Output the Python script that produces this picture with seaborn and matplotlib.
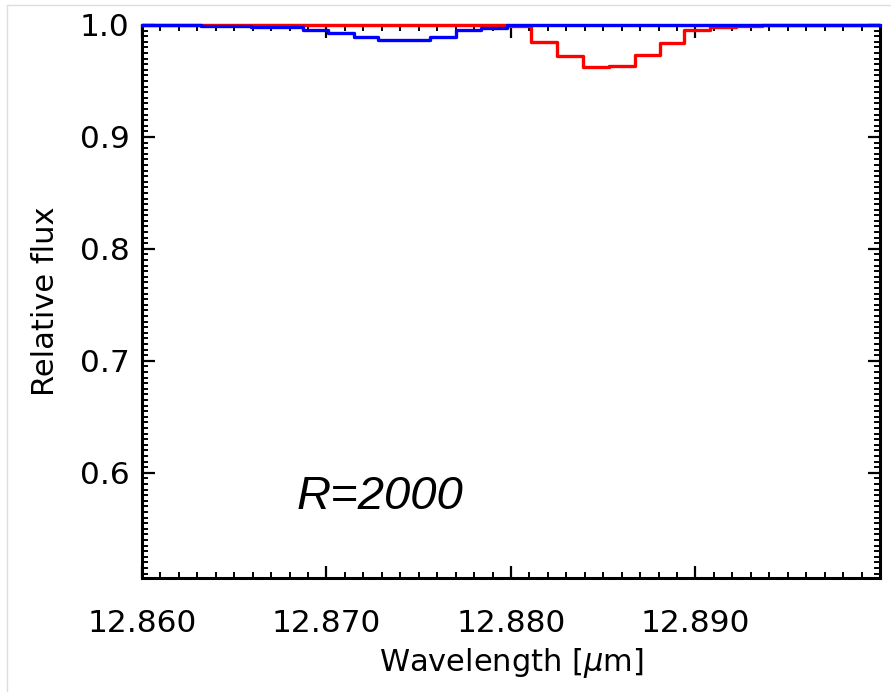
import numpy as np
import pandas as pd
import matplotlib
matplotlib.use("Agg")
import matplotlib.pyplot as plt
from matplotlib.lines import Line2D
from matplotlib.ticker import MultipleLocator, FormatStrFormatter
import seaborn as sns

# Wavelength bin left edges (micron) and final edge
wavelength = [12.8600, 12.8618, 12.8632, 12.8645, 12.8659, 12.8673, 12.8687, 12.8701,
              12.8715, 12.8728, 12.8742, 12.8756, 12.8770, 12.8784, 12.8798, 12.8811,
              12.8825, 12.8839, 12.8853, 12.8867, 12.8881, 12.8894, 12.8908, 12.8922,
              12.8936, 12.8950, 12.8964, 12.8978, 12.8991, 12.9000]

flux_blue = [1.0000, 1.0000, 0.9992, 0.9987, 0.9982, 0.9980, 0.9955, 0.9925,
             0.9890, 0.9862, 0.9866, 0.9896, 0.9955, 0.9977, 0.9997, 1.0000,
             1.0000, 1.0000, 1.0000, 1.0000, 1.0000, 1.0000, 1.0000, 1.0000,
             1.0000, 1.0000, 1.0000, 1.0000, 1.0000, 1.0000]

flux_red = [1.0000, 1.0000, 1.0000, 1.0000, 1.0000, 1.0000, 1.0000, 1.0000,
            1.0000, 1.0000, 1.0000, 1.0000, 1.0000, 1.0000, 0.9993, 0.9850,
            0.9720, 0.9627, 0.9636, 0.9731, 0.9842, 0.9955, 0.9980, 0.9990,
            1.0000, 1.0000, 1.0000, 1.0000, 1.0000, 1.0000]

x_ticks = [12.860, 12.870, 12.880, 12.890]
y_ticks = [0.6, 0.7, 0.8, 0.9, 1.0]
annotation = "R=2000"

df = pd.DataFrame({
    "wavelength": wavelength * 2,
    "flux": flux_red + flux_blue,
    "series": ["red"] * len(flux_red) + ["blue"] * len(flux_blue),
})

sns.set_theme(style="ticks")
plt.rcParams["font.family"] = ["DejaVu Sans"]
plt.rcParams["text.color"] = "black"
plt.rcParams["axes.labelcolor"] = "black"
plt.rcParams["xtick.color"] = "black"
plt.rcParams["ytick.color"] = "black"
plt.rcParams["xtick.labelcolor"] = "black"
plt.rcParams["ytick.labelcolor"] = "black"

fig = plt.figure(figsize=(8.91, 6.92), dpi=100)
ax = fig.add_axes([142 / 891, 1 - 578 / 692, (880 - 142) / 891, (578 - 25) / 692])

sns.lineplot(data=df, x="wavelength", y="flux", hue="series",
             palette={"red": "#ff0000", "blue": "#0000ff"},
             estimator=None, sort=False, drawstyle="steps-post",
             linewidth=2.4, legend=False, ax=ax, clip_on=False, zorder=5)

ax.set_xlim(12.860, 12.900)
ax.set_ylim(0.506, 1.0)
ax.set_xticks(x_ticks)
ax.set_yticks(y_ticks)
ax.xaxis.set_major_formatter(FormatStrFormatter("%.3f"))
ax.yaxis.set_major_formatter(FormatStrFormatter("%.1f"))
ax.xaxis.set_minor_locator(MultipleLocator(0.001))
ax.yaxis.set_minor_locator(MultipleLocator(0.005))

ax.tick_params(which="both", direction="in", top=True, right=True,
               color="black", labelcolor="black")
ax.tick_params(which="major", length=9, width=1.6, labelsize=22.5)
ax.tick_params(which="minor", length=4.5, width=1.4)
ax.tick_params(axis="x", which="major", pad=22)
ax.tick_params(axis="y", which="major", pad=9)
for s in ax.spines.values():
    s.set_linewidth(2.2)
    s.set_color("black")

ax.set_xlabel("Wavelength [$\\mu$m]", fontsize=22, labelpad=6, color="black")
ax.set_ylabel("Relative flux", fontsize=22, labelpad=14, color="black")

ax.text(12.8729, 0.578, annotation, fontsize=34, style="italic", color="black",
        family=["Liberation Sans", "DejaVu Sans"], ha="center", va="center")

# faint frame lines of the original image
fig.add_artist(Line2D([7 / 891, 7 / 891], [0, 1 - 5 / 692], color="#dddddd", lw=1))
fig.add_artist(Line2D([7 / 891, 1], [1 - 5 / 692, 1 - 5 / 692], color="#dddddd", lw=1))

fig.savefig("out.png", dpi=100)
